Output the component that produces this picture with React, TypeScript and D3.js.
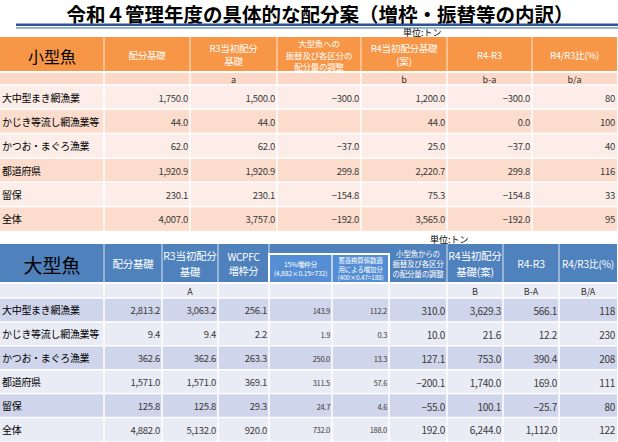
import React from 'react';
import * as d3 from 'd3';

const rowLabels = ['大中型まき網漁業', 'かじき等流し網漁業等', 'かつお・まぐろ漁業', '都道府県', '留保', '全体'];

// 小型魚
const smallBase = [1750.0, 44.0, 62.0, 1920.9, 230.1, 4007.0];
const smallR3 = [1500.0, 44.0, 62.0, 1920.9, 230.1, 3757.0];
const smallAdjust = [-300.0, null, -37.0, 299.8, -154.8, -192.0];
const smallR4 = [1200.0, 44.0, 25.0, 2220.7, 75.3, 3565.0];
const smallDiff = [-300.0, 0.0, -37.0, 299.8, -154.8, -192.0];
const smallRatio = [80, 100, 40, 116, 33, 95];
const smallHeaders = [['配分基礎'], ['R3当初配分', '基礎'], ['大型魚への', '振替及び各区分の', '配分量の調整'], ['R4当初配分基礎', '(案)'], ['R4-R3'], ['R4/R3比(%)']];
const smallSub = ['', 'a', '', 'b', 'b-a', 'b/a'];

// 大型魚
const largeBase = [2813.2, 9.4, 362.6, 1571.0, 125.8, 4882.0];
const largeR3 = [3063.2, 9.4, 362.6, 1571.0, 125.8, 5132.0];
const largeWcpfc = [256.1, 2.2, 263.3, 369.1, 29.3, 920.0];
const large15 = [143.9, 1.9, 250.0, 311.5, 24.7, 732.0];
const largeFactor = [112.2, 0.3, 13.3, 57.6, 4.6, 188.0];
const largeTransfer = [310.0, 10.0, 127.1, -200.1, -55.0, 192.0];
const largeR4 = [3629.3, 21.6, 753.0, 1740.0, 100.1, 6244.0];
const largeDiff = [566.1, 12.2, 390.4, 169.0, -25.7, 1112.0];
const largeRatio = [118, 230, 208, 111, 80, 122];
const largeHeaders = [['配分基礎'], ['R3当初配分', '基礎'], ['WCPFC', '増枠分'], ['15%増枠分', '(4,882×0.15=732)'], ['蓄養換算係数適', '用による増加分', '(400×0.47=188)'], ['小型魚からの', '振替及び各区分', 'の配分量の調整'], ['R4当初配分', '基礎(案)'], ['R4-R3'], ['R4/R3比(%)']];
const largeSub = ['', 'A', '', '', '', '', 'B', 'B-A', 'B/A'];

const FONT = "'Noto Sans CJK JP', 'Noto Sans', sans-serif";
const f1 = d3.format(',.1f');
const f0 = d3.format(',.0f');

type TableProps = {
  y: number; headH: number; subH: number; rowH: number;
  widths: number[]; title: string; titleSize: number;
  series: (number | null)[][]; fmts: ((v: number) => string)[]; sizes: number[];
  headers: string[][]; headSizes: number[]; subs: string[];
  headFill: string; subFill: string; rowFills: string[];
  box?: { from: number; to: number; top: number; fill: string };
};

function DataTable(p: TableProps) {
  const edges = [0, ...Array.from(d3.cumsum(p.widths))];
  const x = (i: number) => edges[i];
  const bodyTop = p.y + p.headH + p.subH;
  const yRow = d3.scaleBand<string>().domain(rowLabels).range([bodyTop, bodyTop + rowLabels.length * p.rowH]);
  const right = edges[edges.length - 1];
  const bottom = bodyTop + rowLabels.length * p.rowH;
  const inBox = (c: number) => p.box && c >= p.box.from && c <= p.box.to;

  return (
    <g fontFamily={FONT}>
      <rect x={0} y={p.y} width={right} height={p.headH} fill={p.headFill} />
      {p.box && (
        <rect x={x(p.box.from + 1)} y={p.y + p.box.top} width={x(p.box.to + 2) - x(p.box.from + 1)}
          height={p.headH - p.box.top} fill={p.box.fill} stroke="#fff" strokeWidth={2} />
      )}
      <text x={x(1) / 2} y={p.y + p.headH / 2 + 1} textAnchor="middle" dominantBaseline="central"
        fontSize={p.titleSize} fill="#000">{p.title}</text>
      {p.headers.map((lines, c) => {
        const cx = (x(c + 1) + x(c + 2)) / 2;
        const top = inBox(c) ? p.y + p.box!.top : p.y;
        const cy = (top + p.y + p.headH) / 2;
        const lh = p.headSizes[c] * (lines.length === 2 && !inBox(c) ? 1.45 : 1.3);
        return (
          <text key={c} textAnchor="middle" fontSize={p.headSizes[c]} fill="#fff" letterSpacing={-0.2}>
            {lines.map((l, k) => (
              <tspan key={k} x={cx} y={cy + (k - (lines.length - 1) / 2) * lh} dominantBaseline="central">{l}</tspan>
            ))}
          </text>
        );
      })}
      <rect x={0} y={p.y + p.headH} width={right} height={p.subH} fill={p.subFill} />
      {p.subs.map((s, c) => (
        <text key={c} x={(x(c + 1) + x(c + 2)) / 2} y={p.y + p.headH + p.subH / 2 + 0.5} textAnchor="middle"
          dominantBaseline="central" fontSize={9} fill="#333">{s}</text>
      ))}
      {rowLabels.map((r, i) => (
        <g key={r}>
          <rect x={0} y={yRow(r)} width={right} height={yRow.bandwidth()} fill={p.rowFills[i % 2]} />
          <text x={2} y={yRow(r)! + yRow.bandwidth() / 2} dominantBaseline="central" fontSize={10}
            letterSpacing={-0.3} fill="#000">{r}</text>
          {p.series.map((vals, c) => vals[i] === null ? null : (
            <text key={c} x={x(c + 2) - 2} y={yRow(r)! + yRow.bandwidth() / 2 + 0.5} textAnchor="end"
              dominantBaseline="central" fontSize={p.sizes[c]} fill="#3a3a3a" letterSpacing={-0.3}>
              {p.fmts[c](vals[i] as number)}
            </text>
          ))}
        </g>
      ))}
      {/* grid */}
      {edges.slice(1, -1).map((e, k) => {
        const skipTop = p.box && k > p.box.from && k <= p.box.to + 1;
        return (
          <g key={k}>
            <line x1={e} x2={e} y1={skipTop ? p.y + p.box!.top : p.y} y2={p.y + p.headH}
              stroke="#fff" strokeOpacity={0.8} strokeWidth={skipTop ? 1.5 : 1} />
            <line x1={e} x2={e} y1={p.y + p.headH} y2={bottom} stroke="#fff" strokeWidth={1.5} />
          </g>
        );
      })}
      {[p.y + p.headH, bodyTop, ...rowLabels.slice(1).map(r => yRow(r)!)].map((yy, k) => (
        <line key={k} x1={0} x2={right} y1={yy} y2={yy} stroke="#fff" strokeWidth={k === 0 ? 2 : 1.5} />
      ))}
    </g>
  );
}

export default function App() {
  return (
    <div style={{ position: 'fixed', left: 0, top: 0 }}>
      <svg width={618} height={442} style={{ display: 'block' }}>
        <rect width={618} height={442} fill="#fff" />
        <text x={320} y={13} textAnchor="middle" dominantBaseline="central" fontFamily={FONT}
          fontWeight="bold" fontSize={19.5} fill="#000">令和４管理年度の具体的な配分案（増枠・振替等の内訳）</text>
        <rect x={16} y={23.5} width={602} height={2.5} fill="#2f5590" />
        <rect x={16} y={27} width={602} height={1.8} fill="#8eaad6" />
        <text x={403} y={32.5} dominantBaseline="central" fontFamily={FONT} fontSize={9} fill="#000">単位:トン</text>
        <DataTable y={37} headH={35} subH={13} rowH={24.3}
          widths={[104, 86, 87, 84, 86, 85, 85]} title="小型魚" titleSize={16}
          series={[smallBase, smallR3, smallAdjust, smallR4, smallDiff, smallRatio]}
          fmts={[f1, f1, f1, f1, f1, f0]} sizes={[9.5, 9.5, 9.5, 9.5, 9.5, 9.5]}
          headers={smallHeaders} headSizes={[9.5, 9.5, 8.5, 9.5, 9.5, 9.5]} subs={smallSub}
          headFill="#f79646" subFill="#fbd8c7" rowFills={['#fcede8', '#fbdccd']} />
        <text x={430} y={239} dominantBaseline="central" fontFamily={FONT} fontSize={9} fill="#000">単位:トン</text>
        <DataTable y={244} headH={39} subH={15} rowH={23.9}
          widths={[104, 58, 56, 51, 63, 57, 58, 56, 56, 58]} title="大型魚" titleSize={19}
          series={[largeBase, largeR3, largeWcpfc, large15, largeFactor, largeTransfer, largeR4, largeDiff, largeRatio]}
          fmts={[f1, f1, f1, f1, f1, f1, f1, f1, f0]} sizes={[9.5, 9.5, 9.5, 7.5, 7.5, 10, 10, 10, 10]}
          headers={largeHeaders} headSizes={[10.5, 10.5, 10, 6.8, 6.5, 7.5, 10.5, 10.5, 10]} subs={largeSub}
          headFill="#4f81bd" subFill="#e9ebf5" rowFills={['#cfd5ea', '#e9ebf5']}
          box={{ from: 3, to: 4, top: 10, fill: '#558ed5' }} />
      </svg>
    </div>
  );
}
